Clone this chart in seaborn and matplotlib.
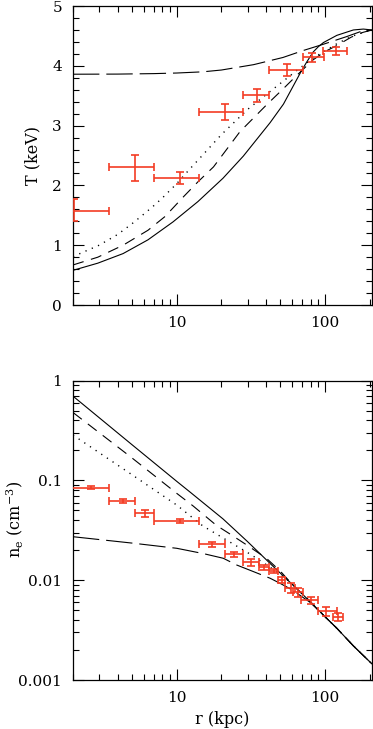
import numpy as np
import pandas as pd
import matplotlib
matplotlib.use("Agg")
import matplotlib.pyplot as plt
import seaborn as sns
from matplotlib.ticker import NullFormatter

# ---------------- data: temperature profile ----------------
t_r = [2.03, 5.24, 10.5, 21.2, 34.6, 55.7, 81.3, 118.6]
t_rlo = [0.5, 3.48, 7.03, 14.1, 28.1, 42.1, 70.8, 97.4]
t_rhi = [3.51, 7.03, 14.1, 28.1, 42.1, 70.8, 98.4, 140.0]
t_val = [1.58, 2.30, 2.12, 3.22, 3.51, 3.93, 4.15, 4.25]
t_elo = [0.17, 0.22, 0.10, 0.13, 0.11, 0.10, 0.08, 0.065]
t_ehi = [0.19, 0.21, 0.10, 0.15, 0.11, 0.095, 0.07, 0.065]

# model curves (temperature)
tm_solid_r = [2, 2.94, 4.35, 6.4, 9.44, 13.9, 20.5, 28.1, 42.6, 52.4, 68, 75, 83, 90, 97.5, 120, 155, 181, 207]
tm_solid_t = [0.58, 0.70, 0.86, 1.09, 1.39, 1.73, 2.12, 2.49, 3.05, 3.36, 3.88, 4.06, 4.23, 4.32, 4.39, 4.51, 4.60, 4.615, 4.60]
tm_dash_r = [2, 2.94, 4.35, 6.4, 8.34, 11.1, 13.9, 17.7, 26.7, 40.4, 52.4, 65, 83, 100, 120, 150, 180, 207]
tm_dash_t = [0.67, 0.80, 1.00, 1.25, 1.48, 1.81, 2.06, 2.31, 2.90, 3.35, 3.62, 3.85, 4.10, 4.24, 4.34, 4.48, 4.56, 4.60]
tm_dot_r = [2, 3, 4, 5, 6, 7, 8, 10, 12, 14, 20, 30, 42, 52, 65, 83, 100, 120, 150, 180, 207]
tm_dot_t = [0.81, 1.00, 1.18, 1.36, 1.52, 1.66, 1.79, 2.03, 2.25, 2.43, 2.85, 3.27, 3.56, 3.74, 3.93, 4.13, 4.25, 4.37, 4.49, 4.56, 4.60]
tm_long_r = [2, 4, 7, 10, 15, 20, 33, 52, 72, 97, 140, 172, 207]
tm_long_t = [3.86, 3.862, 3.87, 3.88, 3.90, 3.93, 4.02, 4.14, 4.26, 4.36, 4.49, 4.57, 4.60]

# ---------------- data: density profile ----------------
n_r = [2.63, 4.36, 6.12, 10.5, 17.2, 24.5, 31.5, 38.5, 45.0, 51.3, 58.7, 65.5, 80.7, 101.6, 122.5]
n_rlo = [1.75, 3.51, 5.24, 7.03, 14.1, 21.2, 28.1, 35.6, 42.1, 48.5, 53.9, 61.0, 69.0, 90.0, 113.0]
n_rhi = [3.51, 5.24, 7.03, 14.1, 21.2, 28.1, 35.6, 42.1, 48.5, 53.9, 62.7, 71.0, 90.0, 120.0, 133.0]
n_val = [0.0846, 0.0622, 0.0468, 0.0395, 0.0229, 0.0182, 0.0152, 0.0135, 0.0125, 0.0101, 0.00845, 0.00757, 0.0063, 0.00487, 0.00427]
n_err = [0.0033, 0.0024, 0.0036, 0.0019, 0.0015, 0.0012, 0.0013, 0.0008, 0.0006, 0.0008, 0.0010, 0.0007, 0.0005, 0.0005, 0.0004]

nm_solid_r = [2, 5, 10, 12.3, 20.5, 30, 44.8, 60, 79.3, 100, 120, 155, 207]
nm_solid_n = [0.70, 0.228, 0.098, 0.0765, 0.0412, 0.0244, 0.0137, 0.0091, 0.0061, 0.0043, 0.0033, 0.0022, 0.00145]
nm_dash_r = [2, 5, 10, 12.9, 18.5, 22.9, 30, 40.4, 50, 60, 79.3, 100, 120, 155, 207]
nm_dash_n = [0.48, 0.168, 0.0743, 0.0555, 0.0355, 0.0290, 0.0223, 0.0165, 0.0123, 0.0091, 0.0061, 0.0043, 0.0033, 0.0022, 0.00145]
nm_dot_r = [2, 5, 10, 15, 24, 31.2, 45, 55, 65, 79.3, 100, 120, 155, 207]
nm_dot_n = [0.285, 0.114, 0.0567, 0.035, 0.0231, 0.0183, 0.0128, 0.0102, 0.0083, 0.0061, 0.0043, 0.0033, 0.0022, 0.00145]
nm_long_r = [2, 5.09, 10, 15.1, 20.6, 25.4, 32.9, 42.6, 49.8, 60, 79.3, 100, 120, 155, 207]
nm_long_n = [0.0273, 0.0235, 0.0209, 0.0185, 0.0166, 0.0142, 0.0122, 0.01047, 0.0093, 0.0080, 0.0060, 0.0043, 0.0033, 0.0022, 0.00145]

x_major = [10, 100]
x_major_labels = ["10", "100"]
x_minor = [2, 3, 4, 5, 6, 7, 8, 9, 20, 30, 40, 50, 60, 70, 80, 90, 200]
t_major = [0, 1, 2, 3, 4, 5]
n_major = [0.001, 0.01, 0.1, 1]
n_major_labels = ["0.001", "0.01", "0.1", "1"]

# ---------------- style ----------------
sns.set_theme(style="ticks")
plt.rcParams.update({
    "font.family": ["DejaVu Serif"],
    "mathtext.fontset": "dejavuserif",
    "lines.scale_dashes": False,
    "axes.edgecolor": "black",
    "axes.linewidth": 0.9,
    "xtick.color": "black",
    "ytick.color": "black",
    "text.color": "black",
    "axes.labelcolor": "black",
})

RED = "#f43c24"
LONG = (0, (19, 5))
SHORT = (0, (8, 5.5))
DOT = (0, (0.9, 4.0))

fig = plt.figure(figsize=(3.73, 7.29), dpi=100)
ax1 = fig.add_axes([0.1957, 0.5816, 0.8016, 0.4101])
ax2 = fig.add_axes([0.1957, 0.0672, 0.8016, 0.4106])

for ax in (ax1, ax2):
    ax.set_xscale("log")
ax2.set_yscale("log")

def curve(ax, r, v, ls, lw=0.8):
    df = pd.DataFrame({"r": r, "v": v})
    sns.lineplot(data=df, x="r", y="v", ax=ax, color="black", linewidth=lw,
                 linestyle=ls, estimator=None, sort=False, legend=False)

curve(ax1, tm_solid_r, tm_solid_t, "-")
curve(ax1, tm_dash_r, tm_dash_t, SHORT)
curve(ax1, tm_dot_r, tm_dot_t, DOT, 1.0)
curve(ax1, tm_long_r, tm_long_t, LONG)

curve(ax2, nm_solid_r, nm_solid_n, "-")
curve(ax2, nm_dash_r, nm_dash_n, SHORT)
curve(ax2, nm_dot_r, nm_dot_n, DOT, 1.0)
curve(ax2, nm_long_r, nm_long_n, LONG)

tr = np.array(t_r)
ax1.errorbar(tr, t_val, xerr=[tr - np.array(t_rlo), np.array(t_rhi) - tr],
             yerr=[t_elo, t_ehi], fmt="none", ecolor=RED, elinewidth=1.2,
             capsize=2.8, capthick=1.2, zorder=3)
nr = np.array(n_r)
ax2.errorbar(nr, n_val, xerr=[nr - np.array(n_rlo), np.array(n_rhi) - nr],
             yerr=n_err, fmt="none", ecolor=RED, elinewidth=1.2,
             capsize=2.8, capthick=1.2, zorder=3)

for ax in (ax1, ax2):
    ax.set_xlim(2, 207)
    ax.set_xticks(x_major)
    ax.set_xticklabels(x_major_labels)
    ax.set_xticks(x_minor, minor=True)
    ax.xaxis.set_minor_formatter(NullFormatter())
    ax.tick_params(which="both", direction="in", top=True, right=True,
                   width=0.8, labelsize=11)
    ax.tick_params(which="major", length=8, pad=8)
    ax.tick_params(which="minor", length=4)
    ax.grid(False)

ax1.set_ylim(0, 5)
ax1.set_yticks(t_major)
ax1.set_yticks(np.arange(0, 5.01, 0.2), minor=True)
ax1.set_xlabel("")
ax1.set_ylabel("T (keV)", fontsize=11.5)
ax1.yaxis.set_label_coords(-0.105, 0.50)

ax2.set_ylim(0.001, 1)
ax2.set_yticks(n_major)
ax2.set_yticklabels(n_major_labels)
ax2.set_yticks([m * d for d in (0.001, 0.01, 0.1) for m in range(2, 10)], minor=True)
ax2.yaxis.set_minor_formatter(NullFormatter())
ax2.set_ylabel(r"n$_\mathrm{e}$ (cm$^{-3}$)", fontsize=11.5)
ax2.yaxis.set_label_coords(-0.158, 0.535)
ax2.set_xlabel("r (kpc)", fontsize=11.5)
ax2.xaxis.set_label_coords(0.5, -0.105)

fig.savefig("out.png", dpi=100)
